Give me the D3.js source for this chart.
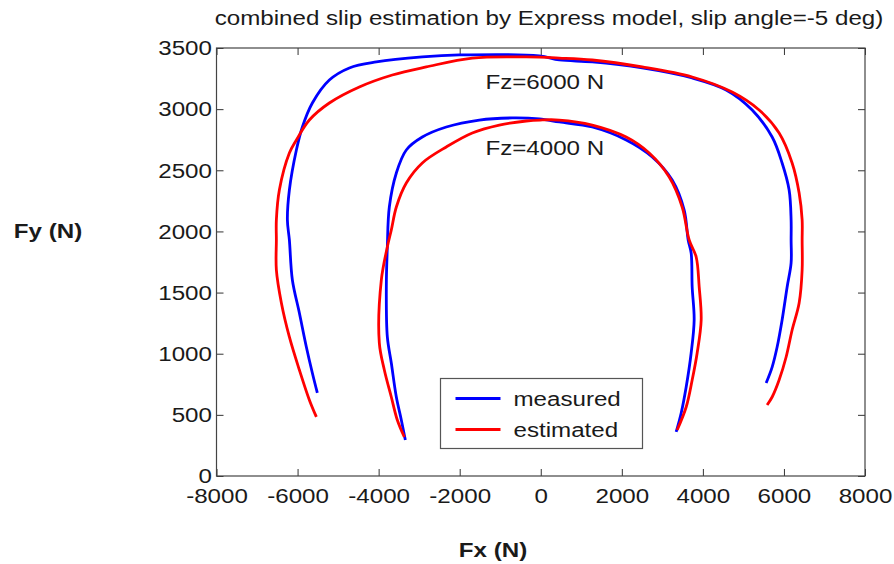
<!DOCTYPE html>
<html>
<head>
<meta charset="utf-8">
<script src="https://cdn.jsdelivr.net/npm/d3@7"></script>
<style>
  body { margin: 0; background: #fff; }
  text { font-family: "Liberation Sans", Arial, sans-serif; fill: #1a1a1a; }
</style>
</head>
<body>
<script>
const [W, H] = [894, 564];
const SX = 1.15;          // source picture is stretched horizontally
const FONT = 21;

const xTicks = [-8000, -6000, -4000, -2000, 0, 2000, 4000, 6000, 8000];
const yTicks = [0, 500, 1000, 1500, 2000, 2500, 3000, 3500];

// [Fx, Fy], left end -> over the top -> right end
const outerMeasured = [
  [-5512, 679], [-5635, 842], [-5783, 1055], [-5955, 1333], [-6128, 1603], [-6202, 1930],
  [-6251, 2094], [-6202, 2339], [-6029, 2666], [-5881, 2854], [-5635, 3050], [-5216, 3238],
  [-4722, 3337], [-4057, 3386], [-2922, 3427], [-2010, 3443], [-37, 3435], [456, 3402],
  [1270, 3386], [2503, 3337], [3736, 3255], [4574, 3157], [5216, 2993], [5709, 2772],
  [5955, 2560], [6128, 2339], [6177, 2094], [6177, 1930], [6177, 1742], [6079, 1546],
  [5955, 1276], [5832, 1055], [5709, 891], [5561, 761]
];
const outerEstimated = [
  [-5536, 483], [-5709, 622], [-5955, 867], [-6202, 1137], [-6399, 1415], [-6523, 1685],
  [-6523, 1930], [-6523, 2094], [-6449, 2339], [-6202, 2641], [-6029, 2748], [-5709, 2911],
  [-5216, 3050], [-4476, 3181], [-3662, 3279], [-2824, 3345], [-1689, 3418], [-358, 3427],
  [456, 3418], [1270, 3402], [2503, 3345], [3736, 3263], [4722, 3140], [5388, 2993],
  [5881, 2805], [6202, 2560], [6375, 2314], [6449, 2094], [6449, 1930], [6449, 1685],
  [6375, 1415], [6202, 1194], [6054, 973], [5881, 785], [5709, 646], [5585, 581]
];
const innerMeasured = [
  [-3341, 294], [-3440, 458], [-3563, 646], [-3687, 924], [-3785, 1137], [-3810, 1546],
  [-3785, 1873], [-3736, 2200], [-3563, 2478], [-3317, 2666], [-2922, 2772], [-2330, 2854],
  [-1517, 2911], [-703, 2928], [-37, 2920], [456, 2895], [1270, 2854], [2108, 2748],
  [2750, 2609], [3243, 2421], [3539, 2175], [3637, 1930], [3711, 1824], [3736, 1546],
  [3785, 1276], [3711, 1006], [3588, 728], [3465, 515], [3341, 360]
];
const innerEstimated = [
  [-3366, 319], [-3539, 458], [-3687, 646], [-3859, 867], [-3983, 1088], [-3933, 1603],
  [-3785, 1873], [-3687, 2012], [-3563, 2200], [-3317, 2396], [-2922, 2560], [-2330, 2691],
  [-1689, 2805], [-1023, 2870], [-358, 2903], [-12, 2911], [456, 2911], [1270, 2870],
  [2108, 2772], [2676, 2641], [3169, 2445], [3489, 2200], [3662, 1930], [3835, 1791],
  [3909, 1546], [3958, 1276], [3859, 1006], [3736, 785], [3588, 564], [3366, 376]
];

const series = [
  { name: 'measured', color: '#0000ff', curves: [outerMeasured, innerMeasured] },
  { name: 'estimated', color: '#ff0000', curves: [outerEstimated, innerEstimated] }
];
const annotations = [
  { text: 'Fz=6000 N', fx: 0, fy: 3222 },
  { text: 'Fz=4000 N', fx: 0, fy: 2682 }
];

const svg = d3.select('body').append('svg').attr('width', W).attr('height', H);

const xScale = d3.scaleLinear().domain([-8000, 8000]).range([216.5, 865]);
const yScale = d3.scaleLinear().domain([0, 3500]).range([476, 48]);

// stretched text helper
function label(x, y, str, opts = {}) {
  return svg.append('text')
    .attr('transform', `translate(${x},${y}) scale(${SX},1)`)
    .attr('text-anchor', opts.anchor || 'start')
    .style('font-size', (opts.size || FONT) + 'px')
    .style('font-weight', opts.bold ? 'bold' : 'normal')
    .text(str);
}

// axes, ticks pointing inward on all four sides
const TICK = 7;
function styleAxis(g, labels) {
  g.select('.domain').remove();
  g.selectAll('.tick line').attr('stroke', '#333');
  g.selectAll('.tick text')
    .style('font-family', '"Liberation Sans", Arial, sans-serif')
    .style('font-size', FONT + 'px')
    .attr('fill', '#1a1a1a')
    .attr('transform', `scale(${SX},1)`);
  if (!labels) g.selectAll('.tick text').remove();
}

svg.append('g')
  .attr('transform', `translate(0,${yScale(0)})`)
  .call(d3.axisBottom(xScale).tickValues(xTicks).tickSize(-TICK).tickPadding(12).tickFormat(d => d))
  .call(g => styleAxis(g, true));
svg.append('g')
  .attr('transform', `translate(0,${yScale(3500)})`)
  .call(d3.axisTop(xScale).tickValues(xTicks).tickSize(-TICK))
  .call(g => styleAxis(g, false));
svg.append('g')
  .attr('transform', `translate(${xScale(-8000)},0)`)
  .call(d3.axisLeft(yScale).tickValues(yTicks).tickSize(-TICK).tickPadding(4).tickFormat(d => d))
  .call(g => styleAxis(g, true));
svg.append('g')
  .attr('transform', `translate(${xScale(8000)},0)`)
  .call(d3.axisRight(yScale).tickValues(yTicks).tickSize(-TICK))
  .call(g => styleAxis(g, false));

svg.append('rect')
  .attr('x', xScale(-8000)).attr('y', yScale(3500))
  .attr('width', xScale(8000) - xScale(-8000)).attr('height', yScale(0) - yScale(3500))
  .attr('fill', 'none').attr('stroke', '#444').attr('stroke-width', 1.2);

// curves
const line = d3.line().curve(d3.curveCatmullRom.alpha(0.5))
  .x(d => xScale(d[0])).y(d => yScale(d[1]));
series.forEach(s => {
  s.curves.forEach(c => {
    svg.append('path')
      .attr('d', line(c))
      .attr('fill', 'none')
      .attr('stroke', s.color)
      .attr('stroke-width', 2.8)
      .attr('stroke-linejoin', 'round');
  });
});

annotations.forEach(a => label(xScale(a.fx) + 4, yScale(a.fy) + 7, a.text, { anchor: 'middle' }));

// titles
label(549, 25, 'combined slip estimation by Express model, slip angle=-5 deg)', { anchor: 'middle' });
label(493, 557, 'Fx (N)', { anchor: 'middle', bold: true });
label(48, 238, 'Fy (N)', { anchor: 'middle', bold: true });

// legend
const lg = { x: 440.5, y: 378.5, w: 202, h: 70 };
svg.append('rect')
  .attr('x', lg.x).attr('y', lg.y).attr('width', lg.w).attr('height', lg.h)
  .attr('fill', '#fff').attr('stroke', '#555').attr('stroke-width', 1.2);
series.forEach((s, i) => {
  const yy = lg.y + 20 + i * 31;
  svg.append('line')
    .attr('x1', lg.x + 15).attr('x2', lg.x + 60).attr('y1', yy).attr('y2', yy)
    .attr('stroke', s.color).attr('stroke-width', 2.8);
  label(lg.x + 73, yy + 7, s.name);
});
</script>
</body>
</html>
